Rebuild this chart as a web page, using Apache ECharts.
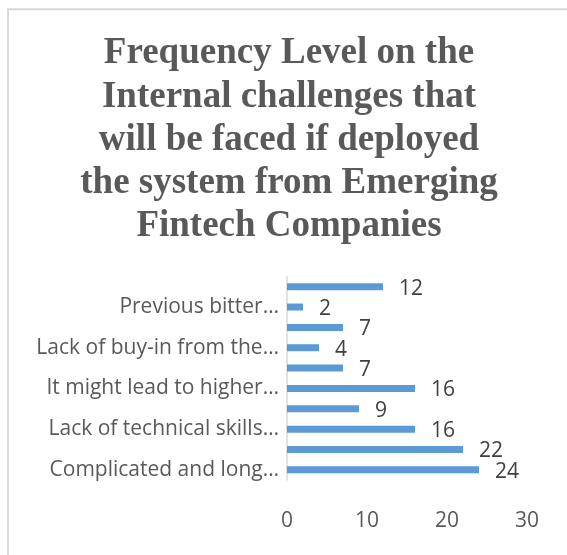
<!DOCTYPE html>
<html>
<head>
<meta charset="utf-8">
<script src="https://cdn.jsdelivr.net/npm/echarts@6/dist/echarts.min.js"></script>
<style>
html,body{margin:0;padding:0;background:#fff;}
#chart{width:567px;height:555px;}
</style>
</head>
<body>
<div id="chart"></div>
<script>
// Categories from bottom to top (labels hidden in the original are left blank)
const categories = [
  "Complicated and long\u2026",
  "",
  "Lack of technical skills\u2026",
  "",
  "It might lead to higher\u2026",
  "",
  "Lack of buy-in from the\u2026",
  "",
  "Previous bitter\u2026",
  ""
];
const values = [24, 22, 16, 9, 16, 7, 4, 7, 2, 12];
const xTicks = { min: 0, max: 30, interval: 10 };
const titleText = "Frequency Level on the\nInternal challenges that\nwill be faced if deployed\nthe system from Emerging\nFintech Companies";

const chart = echarts.init(document.getElementById('chart'), null, { renderer: 'canvas' });
chart.setOption({
  animation: false,
  backgroundColor: '#ffffff',
  graphic: [{
    type: 'rect',
    shape: { x: 8, y: 9.3, width: 640, height: 640 },
    style: { fill: 'none', stroke: '#d9d9d9', lineWidth: 2 },
    silent: true,
    z: -1
  }],
  title: {
    text: titleText,
    left: 289,
    top: 32,
    padding: 0,
    textAlign: 'center',
    textStyle: {
      fontFamily: '"Liberation Serif", "Times New Roman", serif',
      fontWeight: 'bold',
      fontSize: 37,
      lineHeight: 43.3,
      color: '#595959'
    }
  },
  grid: { left: 287, right: 40, top: 276.5, bottom: 75, containLabel: false },
  xAxis: {
    type: 'value',
    min: xTicks.min,
    max: xTicks.max,
    interval: xTicks.interval,
    axisLine: { show: false },
    axisTick: { show: false },
    splitLine: { show: false },
    axisLabel: {
      margin: 31,
      color: '#595959',
      fontFamily: '"Open Sans", sans-serif',
      fontSize: 21
    }
  },
  yAxis: {
    type: 'category',
    data: categories,
    axisLine: { show: true, lineStyle: { color: '#d9d9d9', width: 1.5 } },
    axisTick: { show: false },
    axisLabel: {
      interval: 1,
      margin: 8,
      color: '#595959',
      fontFamily: '"Open Sans", sans-serif',
      fontSize: 21
    }
  },
  series: [{
    type: 'bar',
    data: values,
    barWidth: 7,
    itemStyle: { color: '#5b9bd5' },
    label: {
      show: true,
      position: 'right',
      distance: 16,
      offset: [0, 2],
      color: '#404040',
      fontFamily: '"Open Sans", sans-serif',
      fontSize: 21
    }
  }]
});
</script>
</body>
</html>
